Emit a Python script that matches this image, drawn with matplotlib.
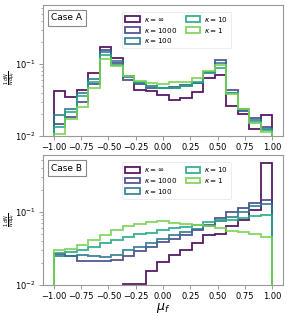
import numpy as np
import matplotlib
matplotlib.use("Agg")
import matplotlib.pyplot as plt

edges = np.linspace(-1, 1, 20)
labels = [r"$\kappa = \infty$", r"$\kappa = 1000$", r"$\kappa = 100$", r"$\kappa = 10$", r"$\kappa = 1$"]
colors = [plt.cm.viridis(v) for v in [0.0, 0.2, 0.4, 0.6, 0.8]]

caseA_inf = [0.042, 0.0343, 0.044, 0.075, 0.173, 0.121, 0.069, 0.043, 0.042, 0.037, 0.032, 0.034, 0.041, 0.065, 0.071, 0.026, 0.020, 0.0125, 0.0196]
caseA_1000 = [0.0145, 0.0182, 0.030, 0.052, 0.155, 0.103, 0.060, 0.052, 0.047, 0.046, 0.048, 0.051, 0.054, 0.077, 0.115, 0.044, 0.022, 0.018, 0.0135]
caseA_100 = [0.0196, 0.0238, 0.039, 0.062, 0.147, 0.110, 0.066, 0.055, 0.049, 0.046, 0.047, 0.050, 0.055, 0.075, 0.105, 0.040, 0.023, 0.0165, 0.0125]
caseA_10 = [0.0135, 0.0218, 0.036, 0.057, 0.135, 0.098, 0.068, 0.057, 0.050, 0.047, 0.046, 0.049, 0.056, 0.077, 0.088, 0.039, 0.0235, 0.0155, 0.012]
caseA_1 = [0.0106, 0.017, 0.025, 0.046, 0.118, 0.093, 0.068, 0.058, 0.054, 0.052, 0.057, 0.057, 0.063, 0.081, 0.098, 0.038, 0.0235, 0.015, 0.0113]

caseB_inf = [0.002, 0.003, 0.004, 0.005, 0.006, 0.008, 0.0103, 0.0103, 0.0155, 0.0205, 0.026, 0.030, 0.038, 0.048, 0.050, 0.063, 0.077, 0.105, 0.46]
caseB_1000 = [0.0263, 0.025, 0.021, 0.0215, 0.0215, 0.022, 0.025, 0.0287, 0.0335, 0.039, 0.042, 0.048, 0.056, 0.066, 0.081, 0.100, 0.111, 0.130, 0.146]
caseB_100 = [0.0245, 0.0245, 0.0258, 0.025, 0.024, 0.0258, 0.030, 0.0335, 0.038, 0.042, 0.0475, 0.053, 0.0575, 0.064, 0.074, 0.0856, 0.100, 0.119, 0.127]
caseB_10 = [0.027, 0.0285, 0.030, 0.0335, 0.037, 0.041, 0.045, 0.049, 0.052, 0.056, 0.059, 0.062, 0.066, 0.072, 0.077, 0.076, 0.081, 0.087, 0.089]
caseB_1 = [0.0296, 0.031, 0.035, 0.041, 0.048, 0.056, 0.063, 0.068, 0.072, 0.074, 0.071, 0.068, 0.066, 0.064, 0.060, 0.055, 0.053, 0.050, 0.045]

caseA = [caseA_inf, caseA_1000, caseA_100, caseA_10, caseA_1]
caseB = [caseB_inf, caseB_1000, caseB_100, caseB_10, caseB_1]

fig = plt.figure(figsize=(2.87, 3.16), dpi=100)
axA = fig.add_axes([0.150, 0.570, 0.836, 0.415])
axB = fig.add_axes([0.150, 0.098, 0.836, 0.411])

centers = 0.5 * (edges[:-1] + edges[1:])

def draw(ax, data, title, ytop, ylab_y):
    for vals, lab, col in zip(data, labels, colors):
        ax.hist(centers, bins=edges, weights=vals, histtype='step', log=True,
                color=col, lw=1.3, alpha=0.9, label=lab)
    ax.set_yscale('log')
    ax.set_ylim(0.01, ytop)
    ax.set_xlim(-1.1, 1.1)
    ax.set_xticks([-1.0, -0.75, -0.5, -0.25, 0.0, 0.25, 0.5, 0.75, 1.0])
    ax.tick_params(labelsize=6, color='#888888', width=0.6, length=3, pad=2)
    ax.tick_params(which='minor', color='#888888', width=0.5, length=1.8)
    for s in ax.spines.values():
        s.set_color('#999999')
        s.set_linewidth(0.8)
    ax.set_ylabel(r"$\frac{1}{N}\frac{dN}{d\mu_f}$", fontsize=5, va='center')
    ax.yaxis.set_label_coords(-0.135, ylab_y)
    ax.text(0.035, 0.9, title, transform=ax.transAxes, fontsize=6.5, va='center', ha='left',
            bbox=dict(boxstyle='square,pad=0.35', fc='white', ec='#888888', lw=0.8))
    leg = ax.legend(ncol=2, fontsize=5.2, loc='upper left', bbox_to_anchor=(0.33, 0.945),
                    borderaxespad=0, handlelength=2.0, handleheight=0.9, columnspacing=1.2,
                    labelspacing=0.25, handletextpad=0.6, framealpha=0.8)
    leg.get_frame().set_linewidth(0.5)
    leg.get_frame().set_edgecolor('#dddddd')

draw(axA, caseA, "Case A", 0.67, 0.44)
draw(axB, caseB, "Case B", 0.59, 0.5)
axB.set_xlabel(r"$\mu_f$", fontsize=9, va='center')
axB.xaxis.set_label_coords(0.5, -0.175)

fig.savefig("out.png", dpi=100)
